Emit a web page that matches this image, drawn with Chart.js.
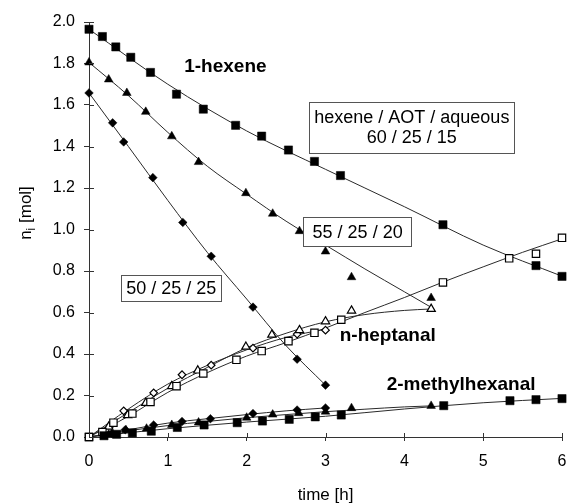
<!DOCTYPE html>
<html>
<head>
<meta charset="utf-8">
<script src="https://cdn.jsdelivr.net/npm/chart.js@4"></script>
<style>
  html, body { margin: 0; padding: 0; background: #fff; }
  #wrap { width: 569px; height: 504px; }
</style>
</head>
<body>
<div id="wrap"><canvas id="c" width="569" height="504"></canvas></div>
<script>
// ---------- data ----------
// 1-hexene, filled markers
const tHex60 = [0, 0.17, 0.34, 0.53, 0.78, 1.11, 1.45, 1.86, 2.19, 2.53, 2.86, 3.19, 4.49, 5.67, 6.0];
const hex60  = [1.965, 1.93, 1.88, 1.83, 1.757, 1.652, 1.58, 1.502, 1.45, 1.383, 1.328, 1.26, 1.023, 0.826, 0.774];
const tHex55 = [0, 0.25, 0.48, 0.72, 1.05, 1.39, 1.99, 2.33, 2.67, 3.0, 3.33, 4.34];
const hex55  = [1.805, 1.723, 1.658, 1.567, 1.449, 1.325, 1.175, 1.076, 0.992, 0.894, 0.770, 0.670];
const tHex50 = [0, 0.30, 0.44, 0.81, 1.19, 1.55, 2.08, 2.64, 3.0];
const hex50  = [1.658, 1.514, 1.422, 1.25, 1.034, 0.871, 0.626, 0.375, 0.25];

// n-heptanal, open markers
const tHep60 = [0, 0.17, 0.31, 0.55, 0.78, 1.11, 1.45, 1.87, 2.19, 2.53, 2.86, 3.2, 4.49, 5.33, 5.67, 6.0];
const hep60  = [0, 0.024, 0.069, 0.113, 0.169, 0.245, 0.306, 0.372, 0.414, 0.462, 0.502, 0.565, 0.745, 0.861, 0.883, 0.96];
const tHep55 = [0.25, 0.49, 0.72, 1.05, 1.38, 1.99, 2.32, 2.67, 3.0, 3.33, 4.34];
const hep55  = [0.05, 0.105, 0.164, 0.245, 0.32, 0.435, 0.493, 0.515, 0.557, 0.609, 0.617];
const tHep50 = [0.30, 0.44, 0.82, 1.18, 1.55, 2.08, 2.64, 3.0];
const hep50  = [0.064, 0.126, 0.213, 0.30, 0.346, 0.428, 0.496, 0.515];

// 2-methylhexanal, filled markers
const tMh60 = [0.19, 0.35, 0.55, 0.79, 1.12, 1.46, 1.88, 2.2, 2.54, 2.87, 3.2, 4.5, 5.34, 5.67, 6.0];
const mh60  = [0.006, 0.013, 0.02, 0.028, 0.046, 0.058, 0.069, 0.077, 0.085, 0.097, 0.106, 0.151, 0.175, 0.180, 0.185];
const tMh55 = [0.25, 0.47, 0.73, 1.05, 1.39, 2.0, 2.33, 2.66, 3.0, 3.33, 4.34];
const mh55  = [0.012, 0.032, 0.04, 0.058, 0.07, 0.093, 0.108, 0.115, 0.122, 0.139, 0.15];
const tMh50 = [0.29, 0.46, 0.82, 1.18, 1.54, 2.08, 2.64, 3.0];
const mh50  = [0.018, 0.035, 0.058, 0.075, 0.088, 0.113, 0.13, 0.14];

// fitted curves
const tFitHex60 = [0, 1, 2, 3, 4, 5, 6];
const fitHex60  = [1.965, 1.70, 1.475, 1.29, 1.11, 0.925, 0.775];
const tFitHex55 = [0, 0.5, 1, 1.5, 2, 2.5, 3, 3.5, 4, 4.34];
const fitHex55  = [1.805, 1.645, 1.468, 1.305, 1.17, 1.04, 0.925, 0.81, 0.70, 0.625];
const tFitHex50 = [0, 0.5, 1, 1.5, 2, 2.5, 3];
const fitHex50  = [1.658, 1.40, 1.14, 0.89, 0.665, 0.44, 0.25];
const tFitHep60 = [0, 0.5, 1, 1.5, 2, 2.5, 3, 3.5, 4, 4.5, 5, 5.5, 6];
const fitHep60  = [0, 0.10, 0.215, 0.31, 0.39, 0.455, 0.525, 0.60, 0.672, 0.748, 0.82, 0.89, 0.955];
const tFitHep55 = [0, 0.5, 1, 1.5, 2, 2.5, 3, 3.5, 4, 4.34];
const fitHep55  = [0, 0.118, 0.235, 0.335, 0.43, 0.50, 0.555, 0.59, 0.61, 0.617];
const tFitHep50 = [0, 0.5, 1, 1.5, 2, 2.5, 3];
const fitHep50  = [0, 0.135, 0.255, 0.345, 0.42, 0.48, 0.52];
const tFitMh60 = [0, 1, 2, 3, 4, 5, 6];
const fitMh60  = [0, 0.04, 0.072, 0.10, 0.135, 0.165, 0.186];
const tFitMh55 = [0, 0.5, 1, 1.5, 2, 2.5, 3, 3.5, 4, 4.34];
const fitMh55  = [0, 0.03, 0.055, 0.075, 0.093, 0.108, 0.122, 0.134, 0.145, 0.15];
const tFitMh50 = [0, 0.5, 1, 1.5, 2, 2.5, 3];
const fitMh50  = [0, 0.035, 0.067, 0.088, 0.108, 0.126, 0.14];

// origin point shared by the product curves
const tOrigin = [0];
const nOrigin = [0];

// axis ticks
const xTicks = [0, 1, 2, 3, 4, 5, 6];
const yTicks = [0.0, 0.2, 0.4, 0.6, 0.8, 1.0, 1.2, 1.4, 1.6, 1.8, 2.0];

// text labels
const xTitle = 'time [h]';
const yTitleMain = 'n';
const yTitleSub = 'i';
const yTitleRest = ' [mol]';
const labels = [
  { text: ['1-hexene'], t: 1.73, n: 1.783, bold: true, size: 19 },
  { text: ['n-heptanal'], t: 3.79, n: 0.49, bold: true, size: 19 },
  { text: ['2-methylhexanal'], t: 4.72, n: 0.253, bold: true, size: 19 }
];
const boxes = [
  { text: ['hexene / AOT / aqueous', '60 / 25 / 15'], t0: 2.795, t1: 5.395, n0: 1.616, n1: 1.370 },
  { text: ['55 / 25 / 20'], t0: 2.72, t1: 4.095, n0: 1.059, n1: 0.918 },
  { text: ['50 / 25 / 25'], t0: 0.41, t1: 1.675, n0: 0.782, n1: 0.657 }
];

// ---------- build ----------
const FONT = '"Liberation Sans", Arial, Helvetica, sans-serif';
const pts = (ts, ns) => ts.map((t, i) => ({ x: t, y: ns[i] }));

function fit(ts, ns) {
  return {
    type: 'line', data: pts(ts, ns), borderColor: '#2a2a2a', borderWidth: 1,
    pointRadius: 0, fill: false, cubicInterpolationMode: 'monotone', order: 5
  };
}
function marks(ts, ns, style, r, open) {
  return {
    type: 'scatter', data: pts(ts, ns), showLine: false,
    pointStyle: style, pointRadius: r, clip: false,
    backgroundColor: open ? '#ffffff' : '#000000',
    borderColor: '#000000', borderWidth: open ? 1.2 : 0.5, order: 1
  };
}

const datasets = [
  fit(tFitHex60, fitHex60), fit(tFitHex55, fitHex55), fit(tFitHex50, fitHex50),
  fit(tFitHep60, fitHep60), fit(tFitHep55, fitHep55), fit(tFitHep50, fitHep50),
  fit(tFitMh60, fitMh60), fit(tFitMh55, fitMh55), fit(tFitMh50, fitMh50),
  marks(tHex60, hex60, 'rect', 5.8, false),
  marks(tHex55, hex55, 'triangle', 5, false),
  marks(tHex50, hex50, 'rectRot', 4.3, false),
  marks(tMh60, mh60, 'rect', 5.8, false),
  marks(tMh55, mh55, 'triangle', 5, false),
  marks(tMh50, mh50, 'rectRot', 4.3, false),
  marks(tHep60, hep60, 'rect', 5.2, true),
  marks(tHep55, hep55, 'triangle', 4.8, true),
  marks(tHep50, hep50, 'rectRot', 3.8, true),
  marks(tOrigin, nOrigin, 'rect', 5.2, true)
];

const decor = {
  id: 'decor',
  afterDraw(chart) {
    const ctx = chart.ctx;
    const xs = chart.scales.x, ys = chart.scales.y;
    const area = chart.chartArea;
    ctx.save();
    // inner halves of the tick marks
    ctx.strokeStyle = '#333';
    ctx.lineWidth = 1;
    ctx.beginPath();
    xTicks.forEach(v => {
      const px = Math.round(xs.getPixelForValue(v)) + 0.5;
      ctx.moveTo(px, area.bottom); ctx.lineTo(px, area.bottom - 4);
    });
    yTicks.forEach(v => {
      const py = Math.round(ys.getPixelForValue(v)) + 0.5;
      ctx.moveTo(area.left, py); ctx.lineTo(area.left + 5, py);
    });
    ctx.stroke();

    // boxes with text
    boxes.forEach(b => {
      const x0 = xs.getPixelForValue(b.t0), x1 = xs.getPixelForValue(b.t1);
      const y0 = ys.getPixelForValue(b.n0), y1 = ys.getPixelForValue(b.n1);
      ctx.fillStyle = '#fff';
      ctx.fillRect(x0, y0, x1 - x0, y1 - y0);
      ctx.strokeStyle = '#555';
      ctx.lineWidth = 1;
      ctx.strokeRect(Math.round(x0) + 0.5, Math.round(y0) + 0.5, Math.round(x1 - x0), Math.round(y1 - y0));
      ctx.fillStyle = '#000';
      ctx.font = '18px ' + FONT;
      ctx.textAlign = 'center';
      ctx.textBaseline = 'middle';
      const cx = (x0 + x1) / 2, cy = (y0 + y1) / 2;
      const lh = 20;
      const n = b.text.length;
      b.text.forEach((s, i) => {
        ctx.fillText(s, cx, cy + (i - (n - 1) / 2) * lh + 1);
      });
    });

    // bold labels
    labels.forEach(l => {
      ctx.fillStyle = '#000';
      ctx.font = (l.bold ? 'bold ' : '') + l.size + 'px ' + FONT;
      ctx.textAlign = 'center';
      ctx.textBaseline = 'middle';
      ctx.fillText(l.text[0], xs.getPixelForValue(l.t), ys.getPixelForValue(l.n));
    });

    // axis titles
    ctx.fillStyle = '#000';
    ctx.font = '17px ' + FONT;
    ctx.textAlign = 'center';
    ctx.textBaseline = 'middle';
    ctx.fillText(xTitle, (area.left + area.right) / 2, 495);

    ctx.save();
    ctx.translate(25, 213);
    ctx.rotate(-Math.PI / 2);
    ctx.font = '17px ' + FONT;
    const wMain = ctx.measureText(yTitleMain).width;
    const wRest = ctx.measureText(yTitleRest).width;
    ctx.font = '12px ' + FONT;
    const wSub = ctx.measureText(yTitleSub).width;
    const total = wMain + wSub + wRest;
    let x = -total / 2;
    ctx.textAlign = 'left';
    ctx.textBaseline = 'alphabetic';
    ctx.font = '17px ' + FONT;
    ctx.fillText(yTitleMain, x, 6);
    x += wMain;
    ctx.font = '12px ' + FONT;
    ctx.fillText(yTitleSub, x, 10);
    x += wSub;
    ctx.font = '17px ' + FONT;
    ctx.fillText(yTitleRest, x, 6);
    ctx.restore();

    ctx.restore();
  }
};

new Chart(document.getElementById('c'), {
  type: 'scatter',
  data: { datasets },
  options: {
    responsive: false,
    animation: false,
    layout: { padding: { top: 22, right: 7, left: 0, bottom: 0 } },
    plugins: { legend: { display: false }, tooltip: { enabled: false } },
    scales: {
      x: {
        type: 'linear', min: 0, max: 6,
        afterBuildTicks(s) { s.ticks = xTicks.map(v => ({ value: v })); },
        ticks: { color: '#000', font: { family: FONT, size: 16 }, padding: 11, callback: v => String(v) },
        grid: { drawOnChartArea: false, drawTicks: true, tickLength: 4, color: '#333' },
        border: { display: true, color: '#333' },
        afterFit(s) { s.height = 67; s.paddingLeft = 0; s.paddingRight = 0; }
      },
      y: {
        type: 'linear', min: 0, max: 2,
        afterBuildTicks(s) { s.ticks = yTicks.map(v => ({ value: v })); },
        ticks: { color: '#000', font: { family: FONT, size: 16 }, padding: 9, callback: v => Number(v).toFixed(1) },
        grid: { drawOnChartArea: false, drawTicks: true, tickLength: 5, color: '#333' },
        border: { display: true, color: '#333' },
        afterFit(s) { s.width = 89; s.paddingTop = 0; s.paddingBottom = 0; }
      }
    }
  },
  plugins: [decor]
});
</script>
</body>
</html>
